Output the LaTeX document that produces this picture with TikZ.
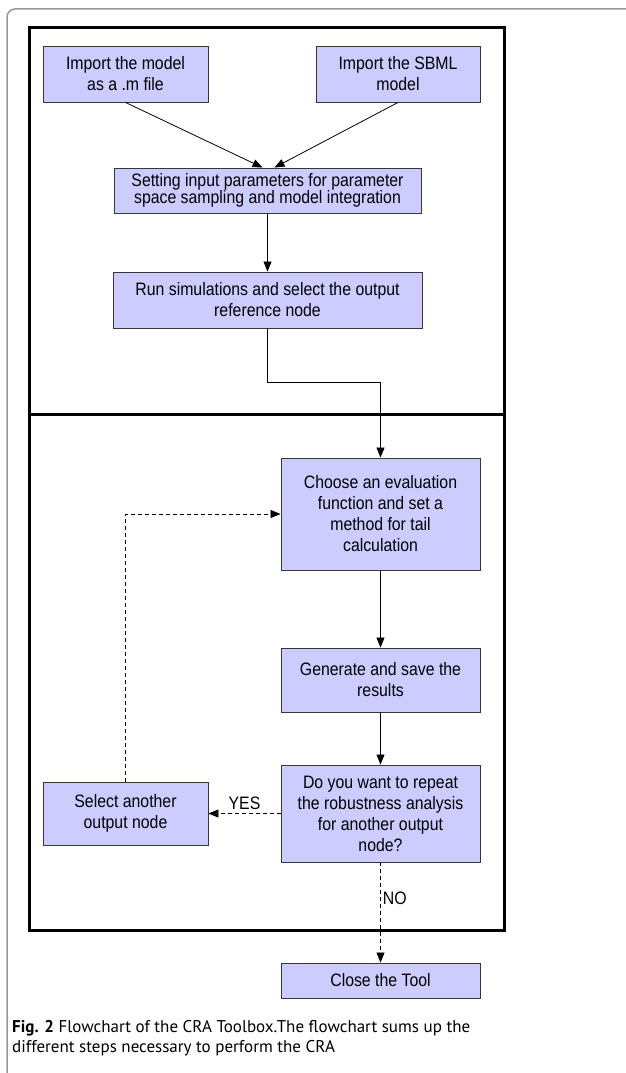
\documentclass[tikz,border=0pt]{standalone}
\usepackage{fontspec}
\setmainfont{Liberation Sans}
\newfontfamily\capfont{PT Sans}
\usetikzlibrary{arrows.meta}
\definecolor{boxfill}{RGB}{204,204,255}
\definecolor{boxline}{RGB}{55,55,55}
\definecolor{framegray}{RGB}{150,150,150}
\begin{document}
\begin{tikzpicture}[x=1pt,y=-1pt,
  box/.style={draw=boxline, fill=boxfill, line width=0.9pt, align=center, inner sep=0pt,
    font=\fontsize{18}{21}\selectfont\addfontfeature{FakeStretch=0.88}},
  flow/.style={-{Triangle[length=10pt,width=8pt]}, line width=0.8pt},
  dashflow/.style={flow, dash pattern=on 4pt off 3pt},
  lbl/.style={font=\fontsize{18}{21}\selectfont\addfontfeature{FakeStretch=0.88}, inner sep=2pt}]
\useasboundingbox (0,0) rectangle (626,1073);
\draw[framegray, line width=1.5pt, rounded corners=8pt] (7,1090) |- (650,9);
\draw[line width=3pt] (29,28) rectangle (504,930);
\draw[line width=3pt] (29,414) -- (504,414);
% upper part
\node[box, minimum width=165pt, minimum height=56pt] (mfile) at (125.5,74) {Import the model\\as a .m file};
\node[box, minimum width=164pt, minimum height=56pt] (sbml) at (398,74) {Import the SBML\\model};
\node[box, minimum width=307pt, minimum height=45pt, font=\fontsize{18}{17.5}\selectfont\addfontfeature{FakeStretch=0.88}] (setting) at (267.5,190.5) {Setting input parameters for parameter\\space sampling and model integration};
\node[box, minimum width=309pt, minimum height=56pt] (runsim) at (267.5,300) {Run simulations and select the output\\reference node};
% lower part
\node[box, minimum width=199pt, minimum height=112pt] (choose) at (380.5,514) {Choose an evaluation\\function and set a\\method for tail\\calculation};
\node[box, minimum width=199pt, minimum height=64pt] (generate) at (380.5,680) {Generate and save the\\results};
\node[box, minimum width=199pt, minimum height=97pt] (repeat) at (380.5,813.5) {Do you want to repeat\\the robustness analysis\\for another output\\node?};
\node[box, minimum width=165pt, minimum height=63pt] (select) at (125.5,813.5) {Select another\\output node};
\node[box, minimum width=199pt, minimum height=35pt] (close) at (380.5,980.5) {Close the Tool};
\draw[flow] (mfile.south) -- ([xshift=-5pt]setting.north);
\draw[flow] (sbml.south) -- ([xshift=7pt]setting.north);
\draw[flow] (setting.south) -- (runsim.north);
\draw[flow] (runsim.south) -- ++(0,54) -| (choose.north);
\draw[flow] (choose.south) -- (generate.north);
\draw[flow] (generate.south) -- (repeat.north);
\draw[dashflow] (repeat.west) -- node[lbl, above=1pt] (yes) {YES} (select.east);
\draw[dashflow] (select.north) |- (choose.west);
\draw[dashflow] (repeat.south) -- node[lbl, pos=0.36, anchor=west] (no) {NO} (close.north);
\node[anchor=base west, align=left, inner sep=0pt, font=\capfont\fontsize{17}{20}\selectfont] (caption) at (12,1052)
  {\textbf{Fig. 2} Flowchart of the CRA Toolbox.The flowchart sums up the\\different steps necessary to perform the CRA};
\end{tikzpicture}
\end{document}
